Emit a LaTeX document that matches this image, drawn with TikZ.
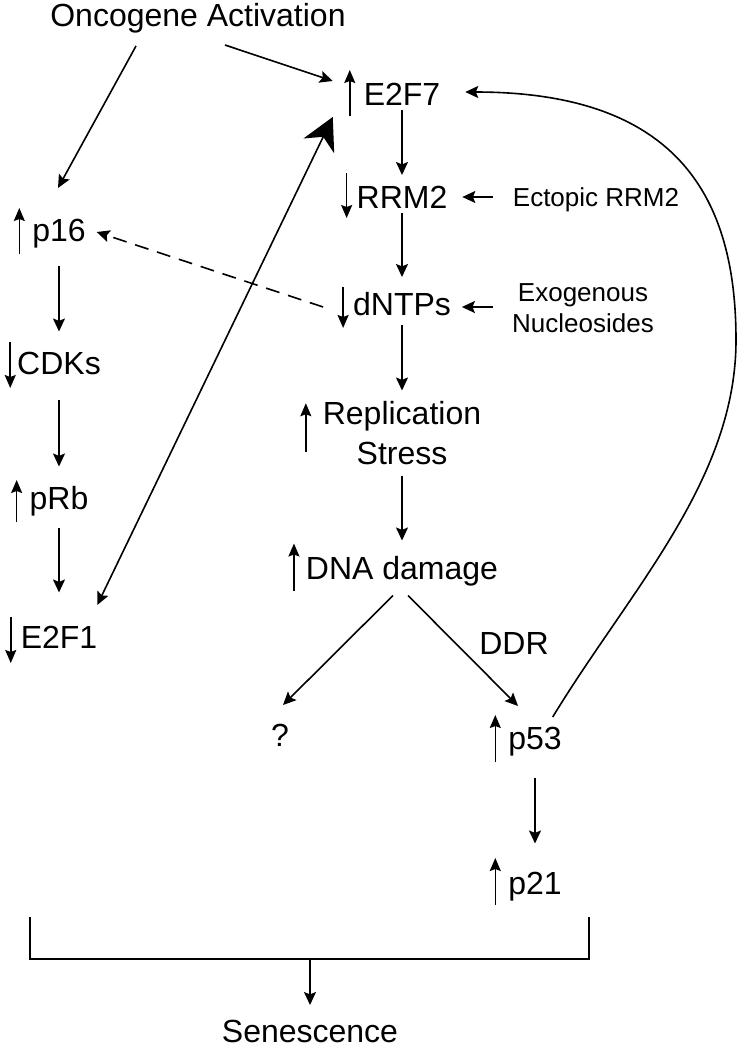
\documentclass[tikz,border=0pt]{standalone}
\usepackage{fontspec}
\setmainfont{Liberation Sans}
\usepackage{tikz}
\usetikzlibrary{arrows.meta, positioning, calc}
\tikzset{
    gene/.style={
        font=\fontsize{16}{20}\selectfont,
        inner sep=0pt,
        outer sep=0pt,
        text height=11.5pt,
        text depth=0pt
    },
    stack/.style={
        font=\fontsize{16}{20}\selectfont,
        inner sep=0pt,
        outer sep=0pt,
        align=center
    },
    treatment/.style={
        font=\fontsize{13}{15.5}\selectfont,
        inner sep=0pt,
        outer sep=0pt,
        align=center
    },
    wire/.style={
        draw=black,
        line width=0.8pt,
        -{Stealth[length=6.5pt, width=6pt, inset=1.2pt]}
    },
    dashwire/.style={
        wire,
        dash pattern=on 7pt off 4.5pt
    },
    levelmark/.style={
        draw=black,
        line width=0.8pt,
        -{Stealth[length=6.5pt, width=5.5pt, inset=1pt]}
    },
    bracket/.style={
        draw=black,
        line width=0.8pt
    }
}

\begin{document}
\begin{tikzpicture}[x=0.5pt, y=-0.5pt]
\useasboundingbox (0,0) rectangle (738,1050);

% Top
\node[gene] (onco) at (198,15) {Oncogene Activation};
\node[gene] (e2f7) at (402,94) {E2F7};

% Central pathway
\node[gene, below=40pt of e2f7] (rrm2) {RRM2};
\node[gene, below=42pt of rrm2] (dntps) {dNTPs};
\node[stack, below=43pt of dntps] (repl) {Replication\\Stress};
\node[gene, below=45.5pt of repl] (dna) {DNA damage};

% Interventions
\node[treatment, text height=9.3pt, text depth=0pt] (ectopic) at (596,197) {Ectopic RRM2};
\node[treatment] (exo) at (583,308.5) {Exogenous\\Nucleosides};

% Left branch
\node[gene] (p16) at (59,230) {p16};
\node[gene, below=55pt of p16] (cdks) {CDKs};
\node[gene, below=56pt of cdks] (prb) {pRb};
\node[gene, below=58pt of prb] (e2f1) {E2F1};

% DNA damage response
\node[gene] (q) at (280,735) {?};
\node[gene] (ddr) at (514,643) {DDR};
\node[gene] (p53) at (535,738) {p53};
\node[gene, below=61pt of p53] (p21) {p21};

% Outcome
\node[gene] (sen) at (310,1031) {Senescence};

% Oncogene activation
\draw[wire] ($(onco.south)+(27,18.5)$) -- ($(e2f7.west)+(-31,-13)$);
\draw[wire] ($(onco.south)+(-62,19.5)$) -- ($(p16.north)+(-1,-30.5)$);

% Central flow
\draw[wire, shorten <=2.25pt, shorten >=5.25pt] (e2f7) -- (rrm2);
\draw[wire, shorten <=2.25pt, shorten >=7.75pt] (rrm2) -- (dntps);
\draw[wire, shorten <=4.75pt, shorten >=5.5pt] (dntps) -- (repl);
\draw[wire, shorten <=5.25pt, shorten >=7.75pt] (repl) -- (dna);

\draw[wire] ($(ectopic.west)+(-20,0)$) -- ($(rrm2.east)+(15,0)$);
\draw[wire] ($(exo.west)+(-19,-1.5)$) -- ($(dntps.east)+(11,3)$);

% Left flow
\draw[dashwire] ($(dntps.west)+(-30,3)$) -- ($(p16.east)+(11,2)$);
\draw[wire, shorten <=12pt, shorten >=10pt] (p16) -- (cdks);
\draw[wire, shorten <=12.5pt, shorten >=10pt] (cdks) -- (prb);
\draw[wire, shorten <=9pt, shorten >=16.5pt] (prb) -- (e2f1);
\draw[wire, {Stealth[length=6.5pt, width=6pt, inset=1.2pt]}-{Stealth[length=16pt, width=17pt, inset=5pt]}]
    ($(e2f1.north east)+(0,-20.5)$) -- ($(e2f7.south west)+(-31,11.5)$);

% Damage branches
\draw[wire] ($(dna.south)+(-9,16.5)$) -- ($(q.north)+(3,-18.5)$);
\draw[wire] ($(dna.south)+(6,16.5)$) -- ($(p53.north)+(-17,-20.5)$);
\draw[wire, shorten <=14pt, shorten >=14pt] (p53) -- (p21);

% p53 feedback
\draw[wire] ($(p53.north east)+(-9,-9.5)$) .. controls (630,590) and (736,480) .. (736,340)
    .. controls (736,200) and (680,92) .. ($(e2f7.east)+(25,-2)$);

% Level marks
\draw[levelmark] ($(e2f7.west)+(-14,22)$) -- ++(0,-46);
\draw[levelmark] ($(rrm2.west)+(-10,-24)$) -- ++(0,45);
\draw[levelmark] ($(dntps.west)+(-10,-17)$) -- ++(0,41);
\draw[levelmark] ($(repl.west)+(-17,19)$) -- ++(0,-49);
\draw[levelmark] ($(dna.west)+(-12,23)$) -- ++(0,-47);
\draw[levelmark] ($(p16.west)+(-13,24)$) -- ++(0,-46);
\draw[levelmark] ($(cdks.west)+(-7,-21)$) -- ++(0,46);
\draw[levelmark] ($(prb.west)+(-13,24)$) -- ++(0,-42);
\draw[levelmark] ($(e2f1.west)+(-10,-20)$) -- ++(0,46);
\draw[levelmark] ($(p53.west)+(-13,24)$) -- ++(0,-47);
\draw[levelmark] ($(p21.west)+(-13,22)$) -- ++(0,-47);

% Bracket to senescence
\coordinate (brleft) at (30,917);
\coordinate (brright) at (589,917);
\coordinate (brjoin) at (310,959);
\draw[bracket] (brleft) -- (brleft |- brjoin) -- (brright |- brjoin) -- (brright);
\draw[wire, shorten >=7.25pt] (brjoin) -- (sen);

\end{tikzpicture}
\end{document}
